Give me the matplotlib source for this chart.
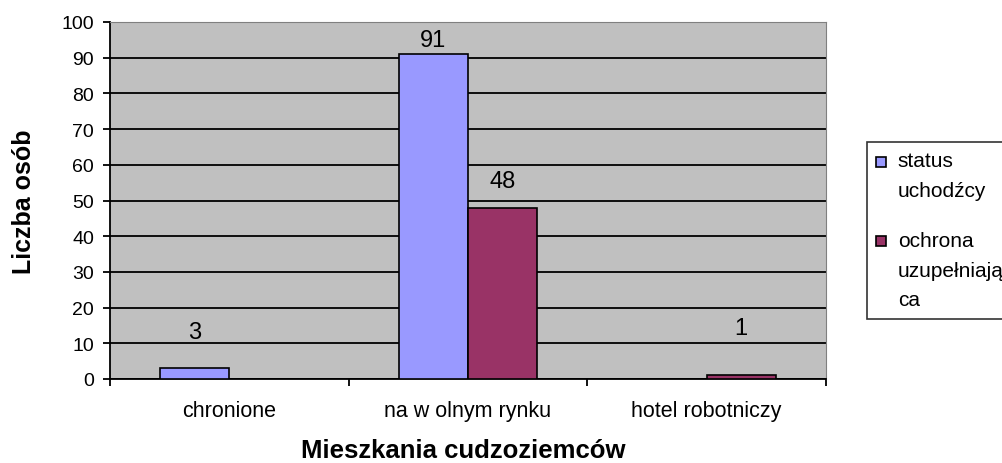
import matplotlib
matplotlib.use("Agg")
import matplotlib.pyplot as plt
from matplotlib.patches import Rectangle
from matplotlib.legend_handler import HandlerPatch, update_from_first_child
import numpy as np

plt.rcParams['font.family'] = ['Liberation Sans', 'DejaVu Sans']

categories = ["chronione", "na w olnym rynku", "hotel robotniczy"]
status = [3, 91, 0]
ochrona = [0, 48, 1]
series_names = ["status\nuchodźcy", "ochrona\nuzupełniają\nca"]

# gap between bar top and label baseline (points), as placed in the original
status_gap = [21.5, 5.8, 0]
ochrona_gap = [0, 15.0, 29.5]

fig = plt.figure(figsize=(10.03, 4.64), dpi=100)
ax = fig.add_axes([110 / 1003, 1 - 380 / 464, 716 / 1003, 357 / 464])
ax.set_facecolor("#C0C0C0")

x = np.arange(len(categories))
w = 0.29
b1 = ax.bar(x - w / 2, status, w, color="#9999FF", edgecolor="black", linewidth=1.2, zorder=3)
b2 = ax.bar(x + w / 2, ochrona, w, color="#993366", edgecolor="black", linewidth=1.2, zorder=3)

for bars, vals, gaps in ((b1, status, status_gap), (b2, ochrona, ochrona_gap)):
    for r, v, g in zip(bars, vals, gaps):
        if v:
            ax.annotate(str(v), (r.get_x() + r.get_width() / 2, v), xytext=(0, g),
                        textcoords="offset points", ha="center", va="baseline", fontsize=17)

ax.set_xlim(-0.5, 2.5)
ax.set_ylim(0, 100)
ax.set_yticks(range(0, 101, 10))
ax.yaxis.grid(True, color="black", linewidth=1.3, zorder=0)
ax.set_axisbelow(True)
ax.set_xticks([-0.5, 0.5, 1.5, 2.5])
ax.set_xticklabels([])
ax.set_xticks(x, minor=True)
ax.set_xticklabels(categories, minor=True, fontsize=15.5)
ax.tick_params(axis="x", which="minor", length=0, pad=15)
ax.tick_params(axis="x", which="major", length=5, width=1.3, direction="out")
ax.tick_params(axis="y", length=5, width=1.3, labelsize=14, pad=6.5)

for s in ("top", "right"):
    ax.spines[s].set_color("#808080")
for s in ("left", "bottom"):
    ax.spines[s].set_linewidth(1.3)

ax.set_ylabel("Liczba osób", fontsize=18, fontweight="bold")
ax.yaxis.set_label_coords((36 - 110) / 716, 0.5)
ax.set_xlabel("Mieszkania cudzoziemców", fontsize=18.5, fontweight="bold", va="baseline")
ax.xaxis.set_label_coords(0.493, (380 - 458) / 357)

fs = 15
ls = 1.7


def square_at_first_line(nlines):
    def make(legend, orig_handle, xdescent, ydescent, width, height, fontsize):
        a = 0.73 * fontsize
        d = 0.21 * fontsize
        pitch = d + a * ls
        off = 0.5 * ((nlines - 1) * pitch + (d if nlines > 1 else 0))
        s = 0.48 * fontsize
        return Rectangle((-xdescent, off - 0.5), s, s)
    return make


hmap = {b1: HandlerPatch(patch_func=square_at_first_line(2), update_func=update_from_first_child),
        b2: HandlerPatch(patch_func=square_at_first_line(3), update_func=update_from_first_child)}

leg = fig.legend([b1, b2], series_names, loc="upper left", bbox_to_anchor=(867 / 1003, 1 - 143 / 464),
                 fontsize=fs, frameon=True, fancybox=False, edgecolor="black", handlelength=0.48,
                 handleheight=0.7, handletextpad=0.55, labelspacing=1.5, borderpad=0.45,
                 handler_map=hmap, borderaxespad=0)
leg.get_frame().set_linewidth(1.2)
for t in leg.get_texts():
    t.set_linespacing(ls)

fig.savefig("out.png", dpi=100)
